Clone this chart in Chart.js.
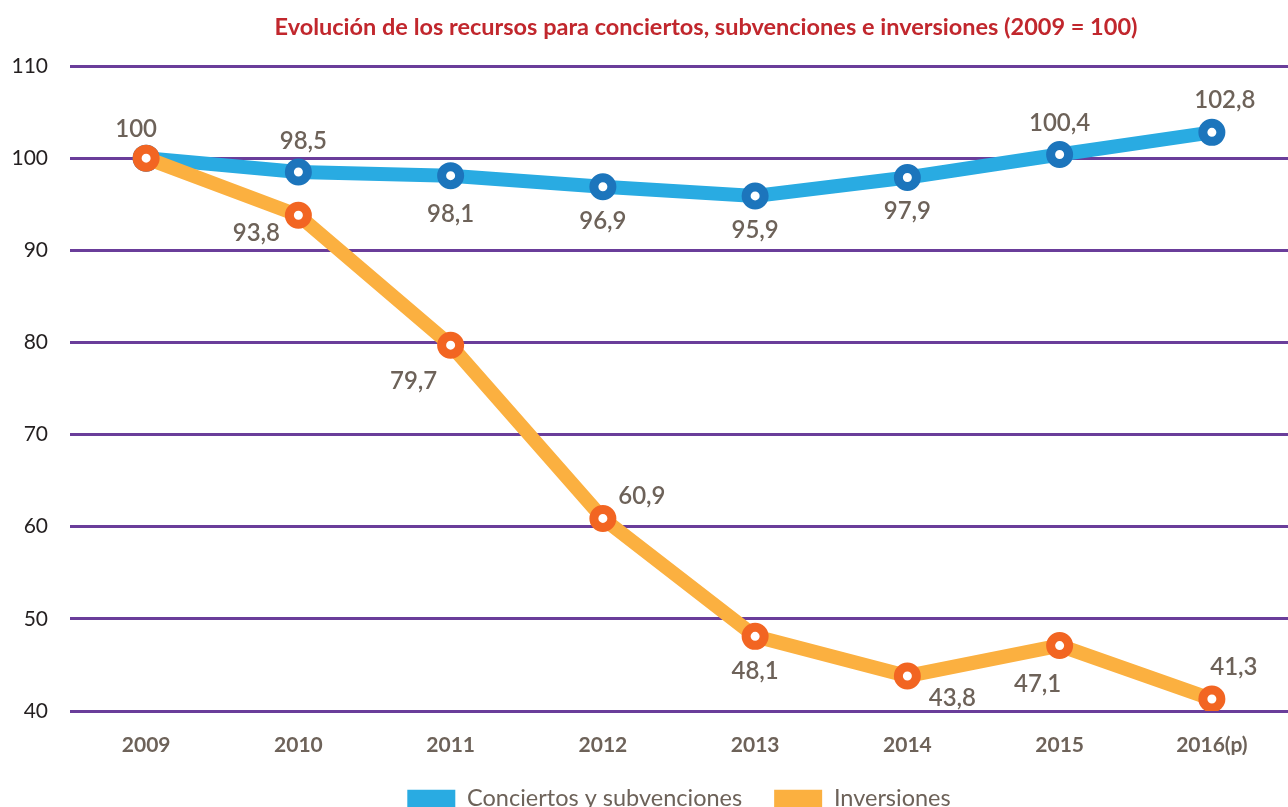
<!DOCTYPE html>
<html>
<head>
<meta charset="utf-8">
<script src="https://cdn.jsdelivr.net/npm/chart.js@4/dist/chart.umd.min.js"></script>
<style>
  html, body { margin: 0; padding: 0; background: #fff; overflow: hidden; }
  #wrap { width: 1288px; height: 807px; }
</style>
</head>
<body>
<div id="wrap"><canvas id="chart"></canvas></div>
<script>
/* data */
const years = ['2009', '2010', '2011', '2012', '2013', '2014', '2015', '2016(p)'];
const conciertos = [100, 98.5, 98.1, 96.9, 95.9, 97.9, 100.4, 102.8];
const inversiones = [100, 93.8, 79.7, 60.9, 48.1, 43.8, 47.1, 41.3];
const yTicks = [40, 50, 60, 70, 80, 90, 100, 110];
const titleText = 'Evolución de los recursos para conciertos, subvenciones e inversiones (2009 = 100)';

/* where each value label sits relative to its point (px), null = no label */
const conciertosLabelPos = [null, [5, -31], [0, 39], [0, 35], [0, 34], [0, 34], [0, -31], [13, -32]];
const inversionesLabelPos = [[-10, -29], [-42, 18], [-37, 36], [39, -22], [0, 35], [45, 22], [-22, 39], [22, -32]];

const BROWN = '#6d6259';
const FONT = 'Lato, "Open Sans", sans-serif';

/* title drawn by hand: the original sits right of centre */
const titleDraw = {
  id: 'titleDraw',
  afterDraw(chart) {
    const ctx = chart.ctx;
    ctx.save();
    ctx.font = 'bold 23.5px ' + FONT;
    ctx.fillStyle = '#c1272d';
    ctx.textAlign = 'center';
    ctx.textBaseline = 'middle';
    ctx.fillText(titleText, 706, 27);
    ctx.restore();
  }
};

const valueLabels = {
  id: 'valueLabels',
  afterDatasetsDraw(chart) {
    const ctx = chart.ctx;
    ctx.save();
    ctx.font = '600 24px ' + FONT;
    ctx.fillStyle = BROWN;
    ctx.textAlign = 'center';
    ctx.textBaseline = 'middle';
    chart.data.datasets.forEach((ds, i) => {
      const meta = chart.getDatasetMeta(i);
      meta.data.forEach((pt, j) => {
        const off = ds.labelPos[j];
        if (!off) return;
        const txt = String(ds.data[j]).replace('.', ',');
        ctx.fillText(txt, pt.x + off[0], pt.y + off[1]);
      });
    });
    ctx.restore();
  }
};

/* keep the legend strip short so the plot reaches down to the x labels */
const legendHeight = {
  id: 'legendHeight',
  afterInit(chart) {
    const lg = chart.legend;
    if (!lg || lg._patched) return;
    const orig = lg.fit.bind(lg);
    lg.fit = function () { orig(); this.height = 52; };
    lg._patched = true;
  }
};

new Chart(document.getElementById('chart'), {
  type: 'line',
  data: {
    labels: years,
    datasets: [
      {
        label: 'Conciertos y subvenciones',
        data: conciertos,
        labelPos: conciertosLabelPos,
        borderColor: '#29abe2',
        backgroundColor: '#29abe2',
        borderWidth: 14,
        pointRadius: 9,
        pointHoverRadius: 9,
        pointBorderWidth: 9,
        pointBorderColor: '#1c75bc',
        pointBackgroundColor: '#ffffff',
        tension: 0,
        order: 1
      },
      {
        label: 'Inversiones',
        data: inversiones,
        labelPos: inversionesLabelPos,
        borderColor: '#fbb040',
        backgroundColor: '#fbb040',
        borderWidth: 14,
        pointRadius: 9,
        pointHoverRadius: 9,
        pointBorderWidth: 9,
        pointBorderColor: '#f26522',
        pointBackgroundColor: '#ffffff',
        tension: 0,
        order: 0
      }
    ]
  },
  options: {
    responsive: true,
    maintainAspectRatio: false,
    animation: false,
    layout: { autoPadding: false, padding: { left: 0, right: -2, top: 66, bottom: 0 } },
    plugins: {
      tooltip: { enabled: false },
      title: { display: false },
      legend: {
        position: 'bottom',
        fullSize: false,
        labels: {
          boxWidth: 48,
          boxHeight: 18,
          color: BROWN,
          font: { family: FONT, size: 23.5 },
          padding: 32,
          sort: (a, b) => a.datasetIndex - b.datasetIndex,
          generateLabels(chart) {
            return chart.data.datasets.map((ds, i) => ({
              text: ds.label,
              fillStyle: ds.borderColor,
              strokeStyle: ds.borderColor,
              lineWidth: 0,
              fontColor: BROWN,
              datasetIndex: i,
              hidden: false
            }));
          }
        }
      }
    },
    scales: {
      x: {
        offset: true,
        grid: { display: false },
        border: { display: false },
        ticks: { color: BROWN, font: { family: FONT, size: 21, weight: 'bold' }, padding: 14 },
        afterFit(s) { s.height = 44; s.paddingLeft = 0; s.paddingRight = 0; }
      },
      y: {
        min: 40,
        max: 110,
        afterBuildTicks(s) { s.ticks = yTicks.map(v => ({ value: v })); },
        grid: { color: '#6a3d9a', lineWidth: 3, drawTicks: false },
        border: { display: false },
        ticks: { color: '#231f20', font: { family: FONT, size: 21 }, padding: 22 },
        afterFit(s) { s.width = 70; s.paddingTop = 0; s.paddingBottom = 0; }
      }
    }
  },
  plugins: [valueLabels, titleDraw, legendHeight]
});
</script>
</body>
</html>
